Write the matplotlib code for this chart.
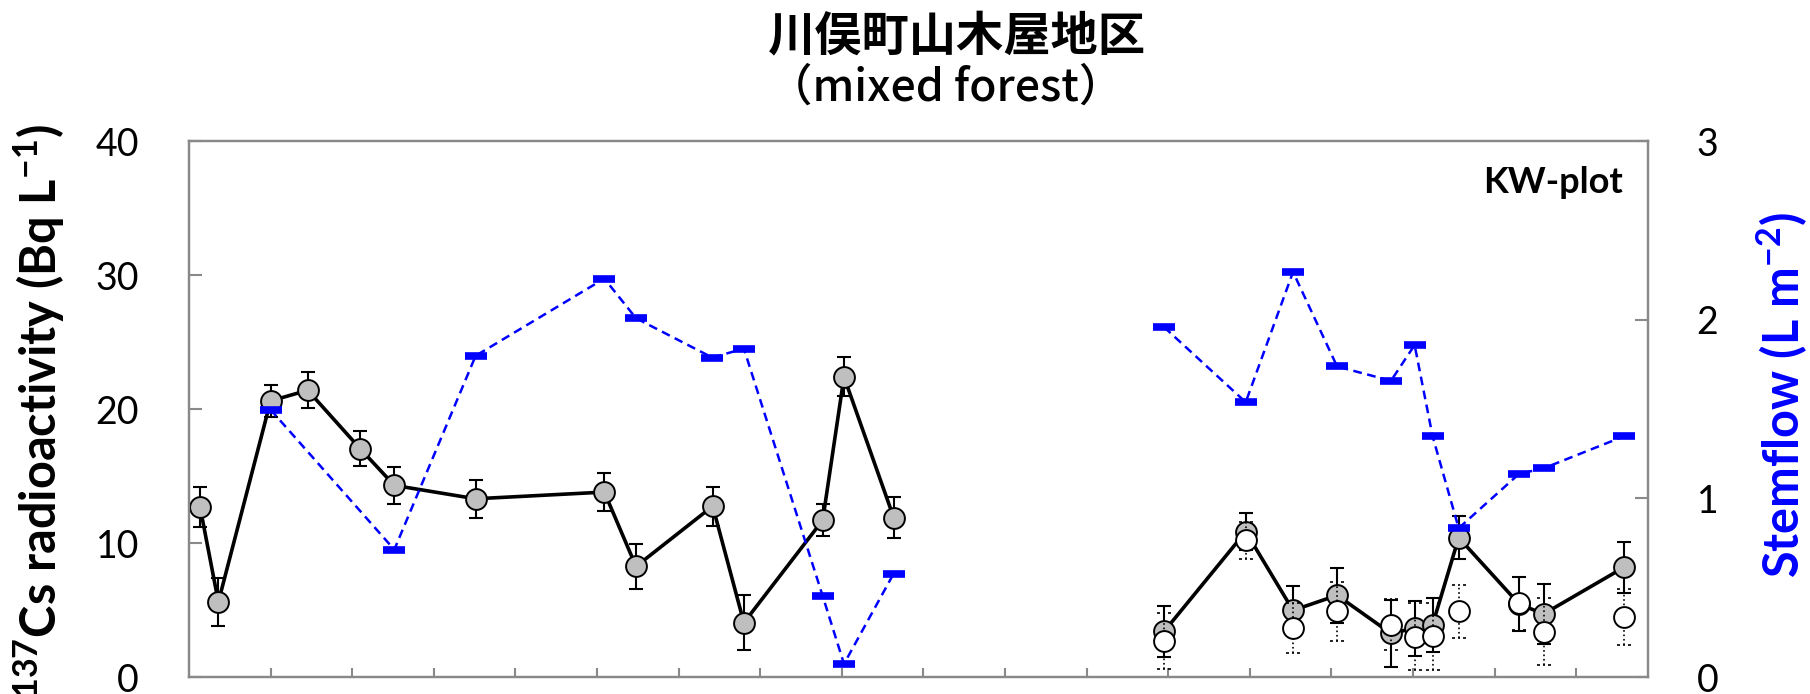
"""
川俣町山木屋地区 (mixed forest) - 137Cs濃度と樹幹流量
"""
import matplotlib
matplotlib.use('Agg')
import matplotlib.pyplot as plt
from matplotlib.path import Path

plt.rcParams['font.family'] = ['Lato', 'DejaVu Sans']
plt.rcParams['mathtext.default'] = 'regular'

# x = 月単位の位置（目盛 1 つ = 1 か月）
x1 = [0.135, 0.36, 1.0, 1.455, 2.096, 2.516, 3.513, 5.09, 5.478, 6.418, 6.80, 7.766, 8.027, 8.636]
cs1 = [12.7, 5.6, 20.6, 21.4, 17.05, 14.3, 13.3, 13.8, 8.25, 12.75, 4.05, 11.7, 22.4, 11.9]
cs1_err = [1.5, 1.8, 1.2, 1.35, 1.3, 1.4, 1.4, 1.4, 1.7, 1.45, 2.05, 1.2, 1.45, 1.55]

flow1_x = [1.0, 2.516, 3.513, 5.09, 5.478, 6.413, 6.80, 7.766, 8.027, 8.636]
flow1 = [1.496, 0.713, 1.798, 2.23, 2.008, 1.788, 1.838, 0.453, 0.073, 0.579]

x2 = [11.95, 12.95, 13.53, 14.07, 14.73, 15.02, 15.24, 15.56, 16.3, 16.6, 17.59]
cs2 = [3.4, 10.85, 4.97, 6.1, 3.25, 3.64, 3.9, 10.4, 5.45, 4.7, 8.2]
cs2_err = [1.9, 1.4, 1.85, 2.05, 2.5, 2.05, 2.0, 1.6, 2.05, 2.25, 1.9]
cs2_open = [2.7, 10.2, 3.64, 4.9, 3.9, 3.0, 3.05, 4.9, 5.5, 3.37, 4.5]
cs2_open_err = [2.1, 1.4, 1.85, 2.2, 1.9, 2.5, 2.5, 2.0, 2.0, 2.5, 2.1]
flow2 = [1.958, 1.538, 2.267, 1.738, 1.658, 1.858, 1.348, 0.833, 1.137, 1.168, 1.348]

x_ticks = list(range(1, 18))
cs_ticks = [0, 10, 20, 30, 40]
flow_ticks = [0, 1, 2, 3]

GRAY_FACE = '#BFBFBF'
BLUE = '#0000FF'
FRAME = '#898989'

# 点線のキャップ用マーカー
dotcap = Path([(-1, 0), (-0.6, 0), (-0.2, 0), (0.2, 0), (0.6, 0), (1, 0)],
              [Path.MOVETO, Path.LINETO, Path.MOVETO, Path.LINETO, Path.MOVETO, Path.LINETO])

fig = plt.figure(figsize=(18.10, 6.94), dpi=100)
fig.patch.set_facecolor('white')
ax = fig.add_axes([189/1810, 1-677/694, 1459/1810, 536/694])
ax2 = ax.twinx()

# ---- 137Cs (灰色 ●) ----
for xs, ys, es in [(x1, cs1, cs1_err), (x2, cs2, cs2_err)]:
    ax.errorbar(xs, ys, yerr=es, fmt='none', ecolor='black', elinewidth=1.5,
                capsize=5, capthick=1.5, zorder=2)
    ax.plot(xs, ys, color='black', lw=2.6, zorder=3)
    ax.plot(xs, ys, 'o', ms=15, mfc=GRAY_FACE, mec='black', mew=1.4, zorder=4, ls='none')

# ---- 137Cs (白 ○, 点線エラーバー) ----
eb = ax.errorbar(x2, cs2_open, yerr=cs2_open_err, fmt='none', ecolor='black',
                 elinewidth=1.2, capsize=5, capthick=1.2, zorder=5)
eb[2][0].set_linestyle(':')
for cap in eb[1]:
    cap.set_marker(dotcap)
ax.plot(x2, cs2_open, 'o', ms=15, mfc='white', mec='black', mew=1.4, zorder=6, ls='none')

# ---- 樹幹流量 (青) ----
for xs, ys in [(flow1_x, flow1), (x2, flow2)]:
    ax2.plot(xs, ys, color=BLUE, lw=1.8, ls='--', dashes=(3.5, 2.2),
             marker='_', ms=16, mew=5.5, mec=BLUE)

ax.set_xlim(0, 17.88)
ax.set_ylim(0, 40)
ax2.set_ylim(0, 3)
ax.set_xticks(x_ticks)
ax.set_xticklabels([])
ax.set_yticks(cs_ticks)
ax2.set_yticks(flow_ticks)

ax.tick_params(axis='y', direction='in', length=9.5, width=1.5, color=FRAME,
               labelsize=27, pad=36)
ax.tick_params(axis='x', direction='in', length=6.5, width=1.5, color=FRAME)
ax2.tick_params(axis='y', direction='in', length=9.5, width=1.5, color=FRAME,
                labelsize=27, pad=35)
for a in (ax, ax2):
    for sp in a.spines.values():
        sp.set_color(FRAME)
        sp.set_linewidth(1.6)

ax.set_ylabel(r'$^{137}$Cs radioactivity (Bq L$^{-1}$)', fontsize=35, fontweight='bold')
ax.yaxis.set_label_coords((67-189)/1459, 0.497)
ax2.set_ylabel(r'Stemflow (L m$^{-2}$)', fontsize=35, fontweight='bold', color=BLUE,
               rotation=90)
ax2.yaxis.set_label_coords((1755-189)/1459, 0.525)

ax.text(0.983, 0.953, 'KW-plot', transform=ax.transAxes, ha='right', va='top',
        fontsize=26, fontweight='bold')

fig.text(768/1810, 1-12/694, '川俣町山木屋地区', ha='left', va='top',
         fontsize=34, fontweight='bold', family=['Noto Sans CJK JP', 'DejaVu Sans'])
fig.text(768/1810, 1-66/694, '（mixed forest）', ha='left', va='top',
         fontsize=32, fontweight='medium', family=['Noto Sans CJK JP', 'DejaVu Sans'])

fig.savefig('out.png', dpi=100, facecolor='white')
